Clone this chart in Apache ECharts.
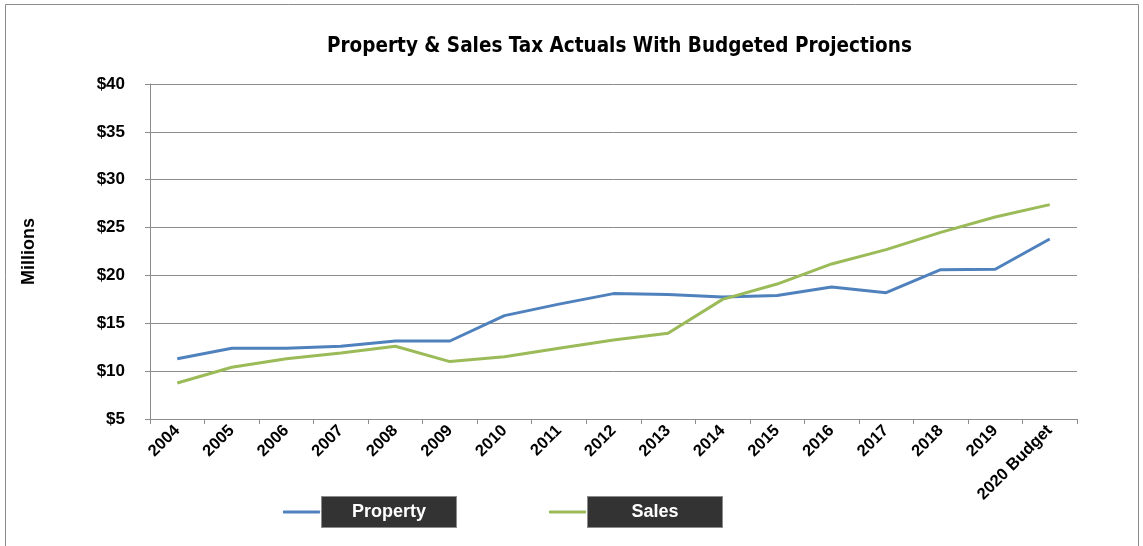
<!DOCTYPE html>
<html>
<head>
	<meta charset="utf-8">
	<script src="https://cdn.jsdelivr.net/npm/echarts@6/dist/echarts.min.js"></script>
</head>
<body style="margin:0;background:#fff;">
	<div id="main" style="width:1143px;height:546px;"></div>
</body>
<script type="text/javascript">
var years = ['2004','2005','2006','2007','2008','2009','2010','2011','2012','2013','2014','2015','2016','2017','2018','2019','2020 Budget'];
var property = [11.3, 12.4, 12.4, 12.6, 13.15, 13.15, 15.8, 17.0, 18.1, 18.0, 17.75, 17.9, 18.8, 18.2, 20.6, 20.65, 23.8];
var sales = [8.76, 10.4, 11.3, 11.9, 12.6, 11.0, 11.5, 12.4, 13.25, 13.95, 17.5, 19.1, 21.2, 22.7, 24.5, 26.1, 27.4];

var boxStyle = {
	width: 114,
	height: 30,
	align: 'center',
	verticalAlign: 'middle',
	backgroundColor: '#333333',
	borderColor: '#8c8c8c',
	borderWidth: 1,
	padding: [0, 10],
	color: '#fff',
	fontSize: 18,
	fontWeight: 'bold',
	fontFamily: 'Liberation Sans'
};

option = {
	animation: false,
	backgroundColor: '#fff',
	title: {
		text: 'Property & Sales Tax Actuals With Budgeted Projections',
		left: 322,
		top: 31,
		textStyle: {
			fontFamily: 'DejaVu Sans Condensed',
			fontWeight: 'bold',
			fontSize: 20.5,
			color: '#000'
		}
	},
	graphic: [{
		type: 'rect',
		shape: {x: 5.5, y: 4.5, width: 1133, height: 560},
		style: {fill: 'none', stroke: '#8c8c8c', lineWidth: 1},
		silent: true
	}],
	grid: {
		left: 150,
		right: 66,
		top: 84,
		bottom: 127
	},
	legend: {
		left: 278,
		top: 491,
		itemGap: 92,
		itemWidth: 37,
		itemHeight: 3,
		icon: 'roundRect',
		data: ['Property', 'Sales'],
		formatter: '{b|{name}}',
		textStyle: {
			padding: [0, 0, 0, -3],
			rich: {b: boxStyle}
		}
	},
	xAxis: {
		type: 'category',
		data: years,
		boundaryGap: true,
		axisLine: {lineStyle: {color: '#8c8c8c', width: 1}},
		axisTick: {show: true, length: 5, alignWithLabel: false, lineStyle: {color: '#8c8c8c'}},
		axisLabel: {
			rotate: 45,
			interval: 0,
			margin: 9,
			color: '#000',
			fontSize: 16.5,
			fontWeight: 'bold',
			fontFamily: 'Liberation Sans'
		}
	},
	yAxis: {
		type: 'value',
		min: 5,
		max: 40,
		interval: 5,
		name: 'Millions',
		nameLocation: 'middle',
		nameGap: 112,
		nameRotate: 90,
		nameTextStyle: {
			color: '#000',
			fontSize: 18,
			fontWeight: 'bold',
			fontFamily: 'Liberation Sans'
		},
		axisLine: {show: true, lineStyle: {color: '#8c8c8c', width: 1}},
		axisTick: {show: true, length: 5, lineStyle: {color: '#8c8c8c'}},
		splitLine: {lineStyle: {color: '#8c8c8c', width: 1}},
		axisLabel: {
			margin: 25,
			color: '#000',
			fontSize: 17,
			fontWeight: 'bold',
			fontFamily: 'Liberation Sans',
			formatter: '${value}'
		}
	},
	series: [{
		name: 'Property',
		type: 'line',
		data: property,
		symbol: 'none',
		color: '#4F81BD',
		lineStyle: {width: 3, color: '#4F81BD'}
	}, {
		name: 'Sales',
		type: 'line',
		data: sales,
		symbol: 'none',
		color: '#9BBB59',
		lineStyle: {width: 3, color: '#9BBB59'}
	}]
};

var myChart = echarts.init(document.getElementById('main'));
myChart.setOption(option);
</script>
</html>
